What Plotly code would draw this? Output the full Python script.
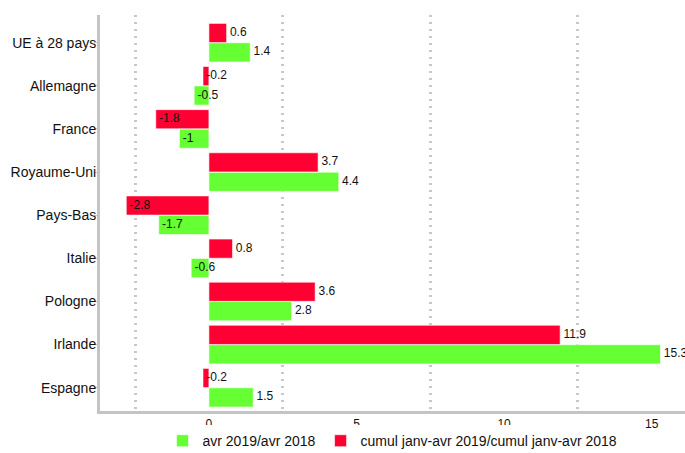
import plotly.graph_objects as go

categories = ["UE à 28 pays", "Allemagne", "France", "Royaume-Uni", "Pays-Bas",
              "Italie", "Pologne", "Irlande", "Espagne"]
avr = [1.4, -0.5, -1, 4.4, -1.7, -0.6, 2.8, 15.3, 1.5]
cumul = [0.6, -0.2, -1.8, 3.7, -2.8, 0.8, 3.6, 11.9, -0.2]
name_avr = "avr 2019/avr 2018"
name_cumul = "cumul janv-avr 2019/cumul janv-avr 2018"

GREEN = "#66ff33"
RED = "#ff0033"
BW = 0.445
OFF = 0.225

idx = list(range(len(categories)))
y_red = [i - OFF for i in idx]
y_green = [i + OFF for i in idx]

fig = go.Figure()
fig.add_trace(go.Bar(y=y_green, x=avr, orientation="h", width=BW, name=name_avr,
                     marker=dict(color=GREEN, line=dict(color="rgba(255,255,255,0.6)", width=1)),
                     hoverinfo="skip"))
fig.add_trace(go.Bar(y=y_red, x=cumul, orientation="h", width=BW, name=name_cumul,
                     marker=dict(color=RED, line=dict(color="rgba(255,255,255,0.6)", width=1)),
                     hoverinfo="skip"))
fig.add_trace(go.Scatter(y=y_green, x=avr, mode="text", text=[f" {v:g}" for v in avr],
                         textposition="middle right", showlegend=False, cliponaxis=False,
                         textfont=dict(size=12, color="#111"), hoverinfo="skip"))
fig.add_trace(go.Scatter(y=y_red, x=cumul, mode="text", text=[f" {v:g}" for v in cumul],
                         textposition="middle right", showlegend=False, cliponaxis=False,
                         textfont=dict(size=12, color="#111"), hoverinfo="skip"))

fig.update_layout(
    width=685, height=453,
    margin=dict(l=100, r=0, t=15, b=42, autoexpand=False),
    paper_bgcolor="white", plot_bgcolor="white",
    font=dict(family="Liberation Sans, Arial, sans-serif", size=13, color="#111"),
    barmode="overlay",
    legend=dict(orientation="h", x=0.5, xanchor="center", y=-0.076, yanchor="middle",
                font=dict(size=14), itemwidth=30, traceorder="normal"),
    showlegend=True,
)
fig.update_xaxes(range=[-3.69, 16.13], tickvals=[0, 5, 10, 15], ticktext=["0", "5", "10", "15"],
                 automargin=False,
                 showgrid=False, zeroline=False, showline=True, linecolor="#c4c4c4", linewidth=3,
                 ticks="", tickfont=dict(size=12),
                 minor=dict(tickvals=[-2.5, 2.5, 7.5, 12.5], showgrid=True, griddash="2px,5px",
                            gridcolor="#c8c8c8", gridwidth=2.5))
fig.update_yaxes(range=[8.54, -0.642], tickvals=idx, ticktext=categories,
                 automargin=False,
                 showgrid=False, zeroline=False, showline=True, linecolor="#c4c4c4", linewidth=3,
                 ticks="outside", ticklen=3, tickcolor="#c4c4c4", tickwidth=1,
                 ticklabelstandoff=-5,
                 tickfont=dict(size=14))

fig.write_html("out.html", config={"displayModeBar": False},
               post_script="document.body.style.margin='0';document.body.style.overflow='hidden';")
